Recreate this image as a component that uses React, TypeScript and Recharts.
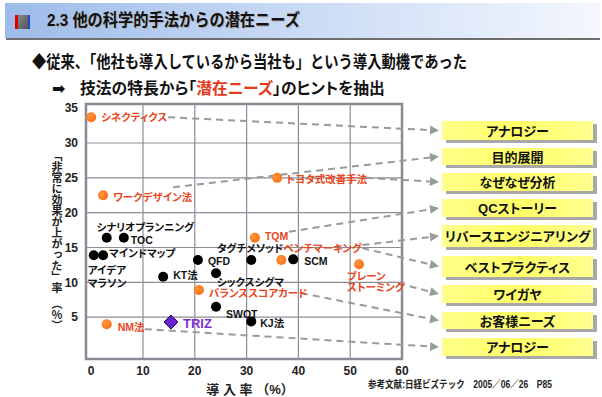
import React from 'react';
import { ScatterChart, Scatter, XAxis, YAxis, ReferenceLine, ReferenceArea } from 'recharts';

// ---------- data ----------
const techniques = [
  'シネクティクス', 'ワークデザイン法', 'トヨタ式改善手法', 'シナリオプランニング', 'TOC',
  'アイデアマラソン', 'マインドマップ', 'TQM', 'タグチメソッド', 'ベンチマーキング',
  'SCM', 'QFD', 'ブレーンストーミング', 'KT法', 'シックスシグマ',
  'バランススコアカード', 'SWOT', 'KJ法', 'TRIZ', 'NM法',
];
const introRate = [0, 2.3, 35.9, 3.0, 6.3, 0.5, 2.3, 31.6, 30.9, 36.7, 39.0, 20.6, 51.7, 13.9, 24.1, 20.8, 24.1, 30.9, 15.4, 3.0];
const effectRate = [33.7, 22.5, 25.0, 16.4, 16.4, 13.9, 13.9, 16.4, 13.2, 13.2, 13.3, 13.2, 12.6, 10.8, 11.3, 8.9, 6.5, 4.4, 4.3, 4.0];
const groups = ['orange', 'orange', 'orange', 'black', 'black', 'black', 'black', 'orange', 'black', 'orange', 'black', 'black', 'orange', 'black', 'black', 'orange', 'black', 'black', 'triz', 'orange'];
const hints = ['アナロジー', '目的展開', 'なぜなぜ分析', 'QCストーリー', 'リバースエンジニアリング', 'ベストプラクティス', 'ワイガヤ', 'お客様ニーズ', 'アナロジー'];
const linkFrom = ['シネクティクス', 'ワークデザイン法', 'トヨタ式改善手法', 'TQM', 'ベンチマーキング', 'ベンチマーキング', 'ブレーンストーミング', 'バランススコアカード', 'NM法'];
const linkTo = [0, 1, 2, 3, 4, 5, 6, 7, 8];
const xTicks = [0, 10, 20, 30, 40, 50, 60];
const yTicks = [5, 10, 15, 20, 25, 30, 35];
const gridX = [10, 20, 30, 40, 50];
const gridY = [5, 10, 15, 20, 25, 30];

const titleText = '2.3 他の科学的手法からの潜在ニーズ';
const line2Text = '◆従来、「他社も導入しているから当社も」という導入動機であった';
const line3Pre = '技法の特長から「';
const line3Red = '潜在ニーズ';
const line3Post = '」のヒントを抽出';
const footerText = '参考文献:日経ビズテック　2005／06／26　P85';
const xTitle = '導 入 率 （%）';
const yTitle = '「非常に効果が上がった」率　（％）';

// ---------- layout ----------
const FONT = "'Liberation Sans','Noto Sans CJK JP',sans-serif";
const ORANGE = '#FF6A10';
const ORANGE_TXT = '#E8461C';
const PURPLE = '#6A22D0';
const PURPLE_TXT = '#7A30D0';

const labelLayout: Record<string, { dx: number; dy: number[]; anchor?: string; lines?: string[] }> = {
  'シネクティクス': { dx: 10, dy: [0] },
  'ワークデザイン法': { dx: 10, dy: [2] },
  'トヨタ式改善手法': { dx: 9, dy: [1] },
  'シナリオプランニング': { dx: -10, dy: [-11] },
  'TOC': { dx: 7, dy: [2] },
  'アイデアマラソン': { dx: -6, dy: [15, 28], lines: ['アイデア', 'マラソン'] },
  'マインドマップ': { dx: 6, dy: [-2] },
  'TQM': { dx: 10, dy: [-2] },
  'タグチメソッド': { dx: -1, dy: [-12], anchor: 'middle' },
  'ベンチマーキング': { dx: 2, dy: [-12] },
  'SCM': { dx: 11, dy: [2] },
  'QFD': { dx: 10, dy: [1] },
  'ブレーンストーミング': { dx: -12, dy: [12, 23], lines: ['ブレーン', 'ストーミング'] },
  'KT法': { dx: 10, dy: [-2] },
  'シックスシグマ': { dx: 1, dy: [9] },
  'バランススコアカード': { dx: 10, dy: [3] },
  'SWOT': { dx: 10, dy: [7] },
  'KJ法': { dx: 9, dy: [2] },
  'TRIZ': { dx: 12, dy: [1] },
  'NM法': { dx: 11, dy: [3] },
};
const linkStart = [[77, 0], [70, -8], [89, 0], [34, -6], [81, -15], [81, -12], [39, 19], [102, 3], [38, 5]];

const BOX_LEFT = 442;
const BOX_W = 151;
const boxTops = [121, 148, 173, 199, 225, 256, 285, 312, 338];
const boxHeights = [19, 17, 18, 18, 22, 21, 18, 17, 18];
const ARROW_TIP = 439;

const points = techniques.map((name, i) => ({ name, x: introRate[i], y: effectRate[i], group: groups[i] }));

function Arrow({ x1, y1, x2, y2 }: { x1: number; y1: number; x2: number; y2: number }) {
  const dx = x2 - x1;
  const dy = y2 - y1;
  const len = Math.sqrt(dx * dx + dy * dy);
  const ux = dx / len;
  const uy = dy / len;
  const hl = 9;
  const hw = 4.5;
  const bx = x2 - ux * hl;
  const by = y2 - uy * hl;
  return (
    <g>
      <line x1={x1} y1={y1} x2={bx} y2={by} stroke="#9a9a9a" strokeWidth={2} strokeDasharray="7 5" />
      <polygon
        points={`${x2},${y2} ${bx - uy * hw},${by + ux * hw} ${bx + uy * hw},${by - ux * hw}`}
        fill="#9a9a9a"
      />
    </g>
  );
}

function makeShape(kind: string) {
  return (props: any) => {
    const { cx, cy } = props;
    const name: string = (props.payload && props.payload.name) || props.name;
    const lay = labelLayout[name] || { dx: 10, dy: [0] };
    const lines = lay.lines || [name];
    const color = kind === 'orange' ? ORANGE_TXT : kind === 'triz' ? PURPLE_TXT : '#111';
    const arrows: any[] = [];
    linkFrom.forEach((f, i) => {
      if (f === name) {
        const t = linkTo[i];
        arrows.push(
          <Arrow
            key={'a' + i}
            x1={cx + linkStart[i][0]}
            y1={cy + linkStart[i][1]}
            x2={ARROW_TIP}
            y2={boxTops[t] + boxHeights[t] / 2}
          />
        );
      }
    });
    let mark;
    if (kind === 'triz') {
      const r = 7;
      mark = (
        <polygon
          points={`${cx},${cy - r} ${cx + r},${cy} ${cx},${cy + r} ${cx - r},${cy}`}
          fill={PURPLE}
          stroke="#1a0a40"
          strokeWidth={1}
        />
      );
    } else {
      mark = <circle cx={cx} cy={cy} r={5} fill={kind === 'orange' ? 'url(#orangeDot)' : '#000'} />;
    }
    return (
      <g>
        {arrows}
        {mark}
        {lines.map((ln, k) => (
          <text
            key={k}
            x={cx + lay.dx}
            y={cy + lay.dy[k]}
            textAnchor={(lay.anchor as any) || 'start'}
            dominantBaseline="central"
            fontFamily={FONT}
            fontSize={kind === 'triz' ? 13 : 10.5}
            fontWeight="bold"
            fill={color}
            style={{ fontFeatureSettings: '"palt"' }}
          >
            {ln}
          </text>
        ))}
      </g>
    );
  };
}

const tickStyle = { fontSize: 12, fontWeight: 'bold' as const, fill: '#222', fontFamily: "'Liberation Sans',Arial,sans-serif" };

export default function App() {
  return (
    <div style={{ position: 'absolute', left: 0, top: 0, width: 602, height: 397, background: '#fff', overflow: 'hidden' }}>
      <div style={{ position: 'absolute', left: 0, top: 0 }}>
        <ScatterChart width={602} height={397} margin={{ top: 104, right: 200, bottom: 0, left: 0 }}>
          <defs>
            <radialGradient id="orangeDot" cx="40%" cy="40%" r="65%">
              <stop offset="0%" stopColor="#FF9A40" />
              <stop offset="100%" stopColor={ORANGE} />
            </radialGradient>
          </defs>
          <XAxis
            type="number"
            dataKey="x"
            domain={[-1, 60]}
            ticks={xTicks}
            height={38}
            axisLine={false}
            tickLine={false}
            tickSize={0}
            tickMargin={7}
            tick={tickStyle}
            interval={0}
            label={(p: any) => {
              const vb = p.viewBox || {};
              return (
                <text
                  x={vb.x + vb.width / 2 + 6}
                  y={389}
                  textAnchor="middle"
                  dominantBaseline="central"
                  fontFamily={FONT}
                  fontSize={13}
                  fontWeight="bold"
                  fill="#222"
                >
                  {xTitle}
                </text>
              );
            }}
          />
          <YAxis
            type="number"
            dataKey="y"
            domain={[-1, 35.6]}
            ticks={yTicks}
            width={86}
            axisLine={false}
            tickLine={false}
            tickSize={0}
            tickMargin={8}
            tick={tickStyle}
            interval={0}
            label={() => (
              <text
                x={56}
                y={150}
                fontFamily={FONT}
                fontSize={11}
                fontWeight="bold"
                fill="#222"
                style={{ writingMode: 'vertical-rl' as any }}
              >
                {yTitle}
              </text>
            )}
          />
          {gridX.map((v) => (
            <ReferenceLine key={'gx' + v} x={v} stroke="#8c8c98" strokeWidth={1.2} />
          ))}
          {gridY.map((v) => (
            <ReferenceLine key={'gy' + v} y={v} stroke="#8c8c98" strokeWidth={1.2} />
          ))}
          <ReferenceArea x1={-1} x2={60} y1={-1} y2={35.6} fill="none" fillOpacity={0} stroke="#8a8a96" strokeWidth={2.5} />
          <Scatter data={points.filter((p) => p.group === 'black')} shape={makeShape('black')} isAnimationActive={false} />
          <Scatter data={points.filter((p) => p.group === 'orange')} shape={makeShape('orange')} isAnimationActive={false} />
          <Scatter data={points.filter((p) => p.group === 'triz')} shape={makeShape('triz')} isAnimationActive={false} />
        </ScatterChart>
      </div>
      <svg width={602} height={397} style={{ position: 'absolute', left: 0, top: 0, pointerEvents: 'none' }}>
        <defs>
          <linearGradient id="titleBar" x1="0" y1="0" x2="1" y2="0">
            <stop offset="0%" stopColor="#9DBBEA" />
            <stop offset="45%" stopColor="#C6D8F4" />
            <stop offset="100%" stopColor="#F4F7FD" />
          </linearGradient>
          <linearGradient id="boxFill" x1="0" y1="0" x2="1" y2="0">
            <stop offset="0%" stopColor="#FFFF8C" />
            <stop offset="50%" stopColor="#FFFF66" />
            <stop offset="100%" stopColor="#FFFF90" />
          </linearGradient>
          <linearGradient id="iconGrad" x1="0" y1="0" x2="1" y2="1">
            <stop offset="0%" stopColor="#8a8a8a" />
            <stop offset="100%" stopColor="#555" />
          </linearGradient>
        </defs>
        {/* title bar */}
        <rect x={5} y={3} width={595} height={35} fill="url(#titleBar)" />
        <rect x={6} y={38} width={594} height={2} fill="#6e6e6e" />
        <rect x={17} y={15} width={11} height={14} fill="url(#iconGrad)" />
        <rect x={28} y={15} width={2} height={14} fill="#2a48c8" />
        <rect x={15} y={15} width={3} height={14} fill="#E00000" />
        <text x={48} y={21.5} dominantBaseline="central" fontFamily={FONT} fontSize={17} fontWeight="bold" fill="#b0b0b0" textLength={253} lengthAdjust="spacingAndGlyphs">
          {titleText}
        </text>
        <text x={47} y={20.5} dominantBaseline="central" fontFamily={FONT} fontSize={17} fontWeight="bold" fill="#111" textLength={253} lengthAdjust="spacingAndGlyphs">
          {titleText}
        </text>
        {/* subtitle lines */}
        <text x={32} y={62} dominantBaseline="central" fontFamily={FONT} fontSize={17} fontWeight="bold" fill="#111" textLength={435} lengthAdjust="spacingAndGlyphs">
          {line2Text}
        </text>
        <text x={52} y={88} dominantBaseline="central" fontFamily="'DejaVu Sans',sans-serif" fontSize={16} fontWeight="bold" fill="#111">
          ➡
        </text>
        <text
          x={80}
          y={88}
          dominantBaseline="central"
          fontFamily={FONT}
          fontSize={15.8}
          fontWeight="bold"
          fill="#111"
          style={{ fontFeatureSettings: '"palt"' }}
        >
          {line3Pre}
          <tspan fill="#E43A1C">{line3Red}</tspan>
          {line3Post}
        </text>
        {/* footer */}
        <text x={368} y={384} dominantBaseline="central" fontFamily={FONT} fontSize={10} fontWeight="bold" fill="#222" textLength={184} lengthAdjust="spacingAndGlyphs">
          {footerText}
        </text>
        {/* hint boxes */}
        {hints.map((h, i) => (
          <g key={'b' + i}>
            <rect x={BOX_LEFT + 4} y={boxTops[i] + 3} width={BOX_W} height={boxHeights[i]} fill="#a8a8a8" />
            <rect x={BOX_LEFT} y={boxTops[i]} width={BOX_W} height={boxHeights[i]} fill="url(#boxFill)" />
            <text
              x={BOX_LEFT + BOX_W / 2}
              y={boxTops[i] + boxHeights[i] / 2 + 0.5}
              textAnchor="middle"
              dominantBaseline="central"
              fontFamily={FONT}
              fontSize={13}
              fontWeight="bold"
              fill="#111"
              style={{ fontFeatureSettings: '"palt"' }}
            >
              {h}
            </text>
          </g>
        ))}
      </svg>
    </div>
  );
}
